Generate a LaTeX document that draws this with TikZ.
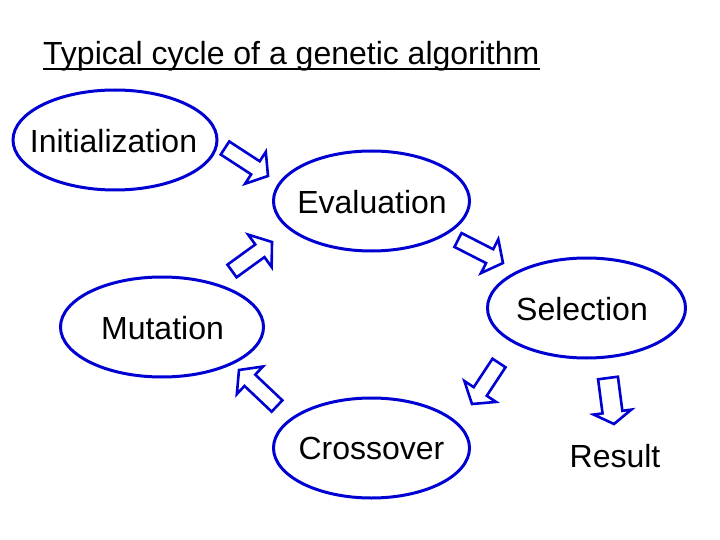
\documentclass[tikz,border=0pt]{standalone}
\usepackage{fontspec}
\setmainfont{Liberation Sans}
\usetikzlibrary{shapes.geometric,calc}
\definecolor{gablue}{RGB}{0,0,210}
\tikzset{
  stage/.style={ellipse, draw=gablue, line width=3pt, inner sep=0pt,
    minimum width=#1, minimum height=100pt, fill=white},
  plain/.style={inner sep=0pt, font=\fontsize{32}{38}\selectfont},
  barrow/.style={draw=gablue, line width=2.6pt, fill=white, line join=miter}
}
% block arrow from #1 (tail centre) to #2 (tip); #3 shaft half width, #4 head half width, #5 head length
\newcommand{\gaarrow}[5]{%
  \path ($(#2)!#5!(#1)$) coordinate (gaH);
  \draw[barrow] ($(#1)!#3!90:(#2)$) -- ($(gaH)!#3!90:(#2)$) -- ($(gaH)!#4!90:(#2)$)
    -- (#2) -- ($(gaH)!#4!-90:(#2)$) -- ($(gaH)!#3!-90:(#2)$) -- ($(#1)!#3!-90:(#2)$) -- cycle;
}
\begin{document}
\begin{tikzpicture}[x=1pt,y=-1pt]
\useasboundingbox[fill=white] (0,0) rectangle (720,540);
% title
\node[plain, anchor=base west] (title) at (43,65) {Typical cycle of a genetic algorithm};
\draw[line width=2pt] ([yshift=-4.5pt]title.base west) -- ([yshift=-4.5pt]title.base east);
% stages
\node[stage=204pt] (init) at (115,140) {};
\node[stage=196pt] (eval) at (371.5,201) {};
\node[stage=198pt] (sel) at (586.5,308) {};
\node[stage=203pt] (mut) at (162,327) {};
\node[stage=196pt] (cross) at (371.5,448) {};
\node[plain] (tinit) at (113.5,141) {Initialization};
\node[plain] (teval) at (372,202) {Evaluation};
\node[plain] (tsel) at (582,309) {Selection};
\node[plain] (tmut) at (162.5,328) {Mutation};
\node[plain] (tcross) at (371.5,448) {Crossover};
\node[plain] (result) at (615,456) {Result};
% arrow end points
\coordinate (a1s) at (225,148); \coordinate (a1e) at (268,176);
\coordinate (a2s) at (232,271); \coordinate (a2e) at (272,242);
\coordinate (a3s) at (458,240); \coordinate (a3e) at (503,263);
\coordinate (a4s) at (277,406); \coordinate (a4e) at (239,370);
\coordinate (a5s) at (499,363); \coordinate (a5e) at (472,404);
\coordinate (a6s) at (608,378); \coordinate (a6e) at (614,424);
\gaarrow{a1s}{a1e}{7.8pt}{19pt}{15pt}
\gaarrow{a2s}{a2e}{7.8pt}{20pt}{15pt}
\gaarrow{a3s}{a3e}{7.8pt}{19pt}{15pt}
\gaarrow{a4s}{a4e}{7.8pt}{19pt}{15pt}
\gaarrow{a5s}{a5e}{7.8pt}{19pt}{15pt}
\gaarrow{a6s}{a6e}{10pt}{19pt}{12pt}
\end{tikzpicture}
\end{document}
